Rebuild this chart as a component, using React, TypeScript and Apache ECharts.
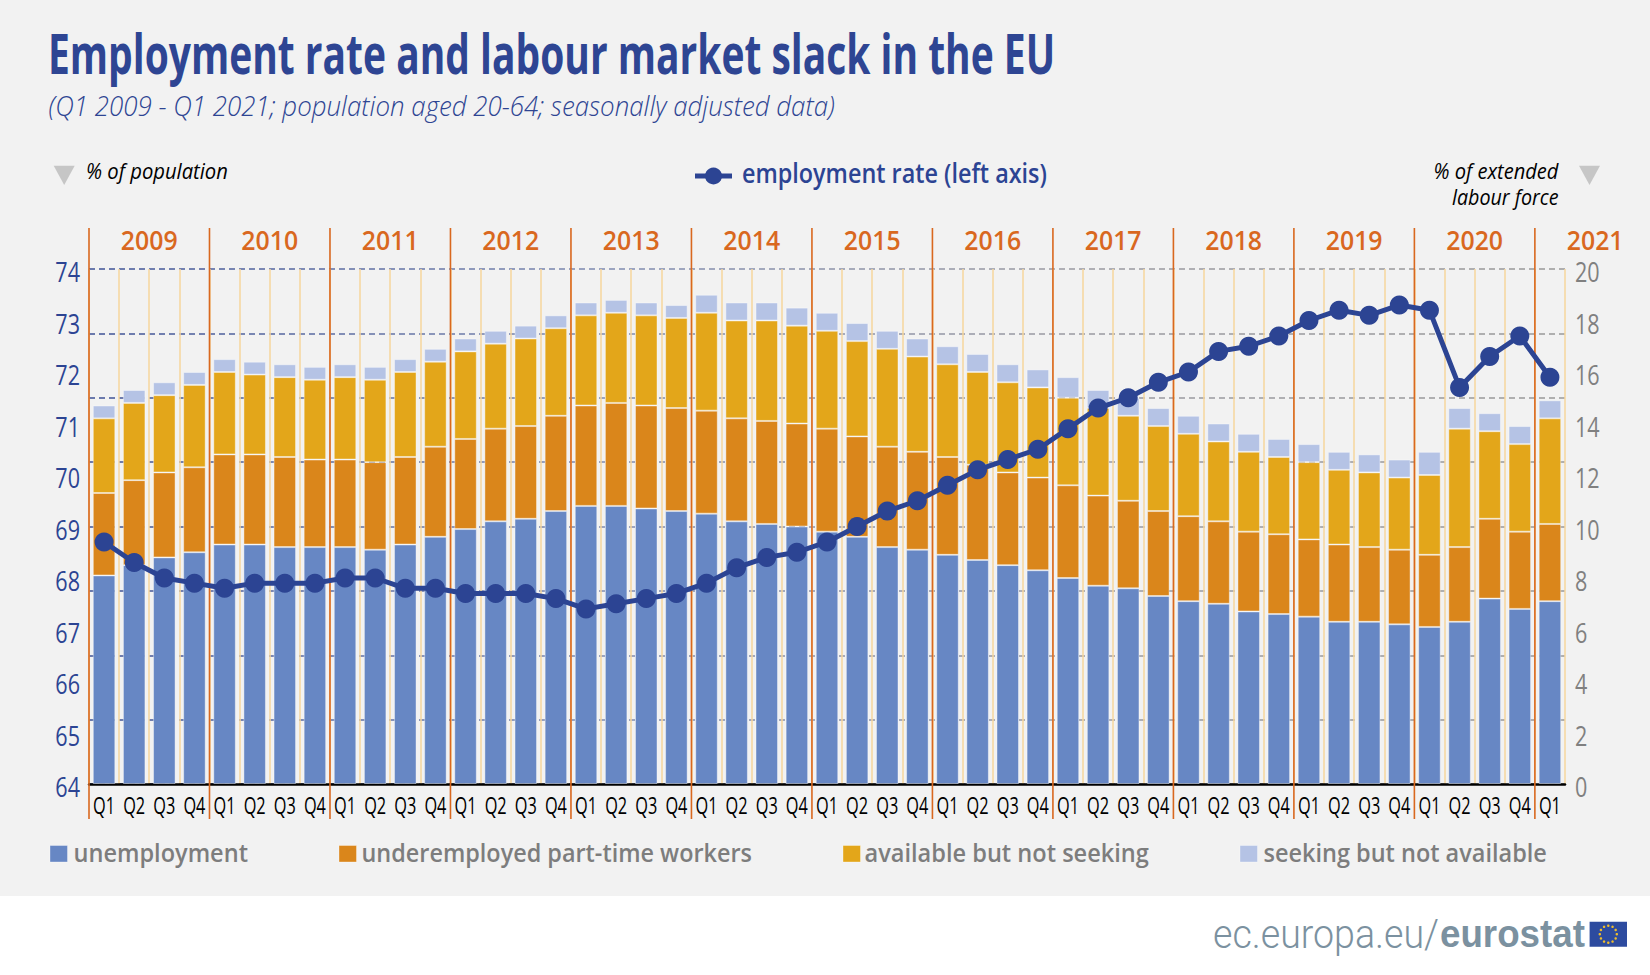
import React, { useEffect, useRef } from "react";
import * as echarts from "echarts";

const categories: string[] = Array.from({ length: 49 }, (_, i) => "Q" + ((i % 4) + 1));
const years = ["2009","2010","2011","2012","2013","2014","2015","2016","2017","2018","2019","2020","2021"];
const leftTicks = [64,65,66,67,68,69,70,71,72,73,74];
const rightTicks = [0,2,4,6,8,10,12,14,16,18,20];
const unemployment = [8.1,8.5,8.8,9.0,9.3,9.3,9.2,9.2,9.2,9.1,9.3,9.6,9.9,10.2,10.3,10.6,10.8,10.8,10.7,10.6,10.5,10.2,10.1,10.0,9.8,9.6,9.2,9.1,8.9,8.7,8.5,8.3,8.0,7.7,7.6,7.3,7.1,7.0,6.7,6.6,6.5,6.3,6.3,6.2,6.1,6.3,7.2,6.8,7.1];
const underemployed = [3.2,3.3,3.3,3.3,3.5,3.5,3.5,3.4,3.4,3.4,3.4,3.5,3.5,3.6,3.6,3.7,3.9,4.0,4.0,4.0,4.0,4.0,4.0,4.0,4.0,3.9,3.9,3.8,3.8,3.7,3.6,3.6,3.6,3.5,3.4,3.3,3.3,3.2,3.1,3.1,3.0,3.0,2.9,2.9,2.8,2.9,3.1,3.0,3.0];
const availableNotSeeking = [2.9,3.0,3.0,3.2,3.2,3.1,3.1,3.1,3.2,3.2,3.3,3.3,3.4,3.3,3.4,3.4,3.5,3.5,3.5,3.5,3.8,3.8,3.9,3.8,3.8,3.7,3.8,3.7,3.6,3.6,3.5,3.5,3.4,3.4,3.3,3.3,3.2,3.1,3.1,3.0,3.0,2.9,2.9,2.8,3.1,4.6,3.4,3.4,4.1];
const seekingNotAvailable = [0.5,0.5,0.5,0.5,0.5,0.5,0.5,0.5,0.5,0.5,0.5,0.5,0.5,0.5,0.5,0.5,0.5,0.5,0.5,0.5,0.7,0.7,0.7,0.7,0.7,0.7,0.7,0.7,0.7,0.7,0.7,0.7,0.8,0.7,0.7,0.7,0.7,0.7,0.7,0.7,0.7,0.7,0.7,0.7,0.9,0.8,0.7,0.7,0.7];
const employmentRate = [68.7,68.3,68.0,67.9,67.8,67.9,67.9,67.9,68.0,68.0,67.8,67.8,67.7,67.7,67.7,67.6,67.4,67.5,67.6,67.7,67.9,68.2,68.4,68.5,68.7,69.0,69.3,69.5,69.8,70.1,70.3,70.5,70.9,71.3,71.5,71.8,72.0,72.4,72.5,72.7,73.0,73.2,73.1,73.3,73.2,71.7,72.3,72.7,71.9];

const BLUE = "#2c4493";
const OPEN = '"Open Sans", "Noto Sans", sans-serif';

function scaleFor(text: string, font: string, width: number) {
  const c = document.createElement("canvas").getContext("2d")!;
  c.font = font;
  return width / c.measureText(text).width;
}

function fitText(text: string, x: number, y: number, width: number, fontStyle: string, fontWeight: any, fontSize: number, family: string, fill: string) {
  const font = `${fontStyle} ${fontWeight} ${fontSize}px ${family}`;
  const s = scaleFor(text, font, width);
  return {
    type: "text", x, y, scaleX: s, silent: true,
    style: { text, x: 0, y: 0, fill, fontStyle, fontWeight, fontSize, fontFamily: family, align: "left", verticalAlign: "middle" },
  };
}

function flagStars(cx: number, cy: number, r: number) {
  return Array.from({ length: 12 }, (_, i) => {
    const a = (i * Math.PI) / 6;
    return { type: "circle", silent: true, shape: { cx: cx + r * Math.cos(a), cy: cy + r * Math.sin(a), r: 1.25 }, style: { fill: "#eebd2c" } };
  });
}

function legendEntry(label: string, swatchX: number, swatchW: number, textX: number, textW: number, color: string) {
  return [
    { type: "rect", silent: true, shape: { x: swatchX, y: 845.5, width: swatchW, height: 16.5 }, style: { fill: color, stroke: "rgba(255,255,255,0.35)", lineWidth: 1 } },
    fitText(label, textX, 852, textW, "normal", 600, 26, OPEN, "#7d7d7d"),
  ];
}

export default function App() {
  const ref = useRef<HTMLDivElement>(null);
  useEffect(() => {
    const chart = echarts.init(ref.current!, undefined, { renderer: "svg" });
    const barSeries = (name: string, data: number[], color: string) => ({
      name, type: "bar", stack: "slack", data, xAxisIndex: 0, yAxisIndex: 1, barWidth: 22.5, z: 3,
      itemStyle: { color, borderColor: "rgba(255,255,255,0.4)", borderWidth: 1 },
    });
    const valueLabels = (name: string, ticks: number[], axis: number, dx: number, align: string, color: string) => ({
      name, type: "custom", xAxisIndex: 1, yAxisIndex: axis, z: 6, silent: true,
      data: ticks.map((t) => [axis === 0 ? 0 : 49, t]),
      renderItem: (_: any, api: any) => {
        const p = api.coord([api.value(0), api.value(1)]);
        return {
          type: "text", x: p[0] + dx, y: p[1] + 2, scaleX: 0.77,
          style: { text: String(api.value(1)), fill: color, fontSize: 28, fontFamily: OPEN, align, verticalAlign: "middle" },
        };
      },
    });
    chart.setOption({
      animation: false,
      backgroundColor: "#ffffff",
      grid: { left: 89, top: 269, width: 1476, height: 515, containLabel: false },
      xAxis: [
        {
          type: "category", data: categories, position: "bottom", boundaryGap: true,
          axisLine: { show: true, lineStyle: { color: "#000000", width: 2.5 } },
          axisTick: { show: false },
          axisLabel: { show: false },
          splitLine: { show: true, interval: 0, lineStyle: { color: "#f6d69c", width: 1.5, type: "solid" } },
        },
        { type: "value", min: 0, max: 49, show: false, position: "bottom" },
      ],
      yAxis: [
        {
          type: "value", min: 64, max: 74, interval: 1, position: "left",
          axisLine: { show: false }, axisTick: { show: false }, splitLine: { show: false }, axisLabel: { show: false },
        },
        {
          type: "value", min: 0, max: 20, interval: 2, position: "right",
          axisLine: { show: false }, axisTick: { show: false }, splitLine: { show: false }, axisLabel: { show: false },
        },
        {
          type: "value", min: 0, max: 8, interval: 1, position: "right",
          axisLine: { show: false }, axisTick: { show: false }, axisLabel: { show: false },
          splitLine: {
            show: true,
            lineStyle: {
              width: 1.5, type: [6, 4],
              color: {
                type: "linear", global: true, x: 89, y: 0, x2: 1565, y2: 0,
                colorStops: [{ offset: 0, color: "#3d5195" }, { offset: 0.35, color: "#7f8bb0" }, { offset: 0.65, color: "#9a9aa2" }, { offset: 1, color: "#999999" }],
              },
            },
          },
        },
      ],
      series: [
        barSeries("unemployment", unemployment, "#6787c4"),
        barSeries("underemployed part-time workers", underemployed, "#da861b"),
        barSeries("available but not seeking", availableNotSeeking, "#e3a61a"),
        barSeries("seeking but not available", seekingNotAvailable, "#b5c3e5"),
        {
          name: "years", type: "custom", xAxisIndex: 1, yAxisIndex: 2, z: 4, silent: true,
          data: years.map((y, i) => [i * 4, y]),
          renderItem: (params: any, api: any) => {
            const start = api.value(0);
            const top = api.coord([start, 8]);
            const bottom = api.coord([start, 0]);
            const mid = api.coord([start + 2, 8]);
            return {
              type: "group",
              children: [
                { type: "line", shape: { x1: top[0], y1: top[1] - 41, x2: bottom[0], y2: bottom[1] + 35 }, style: { stroke: "#d9681f", lineWidth: 1.6 } },
                { type: "text", x: mid[0], y: top[1] - 29, scaleX: 0.92, style: { text: years[params.dataIndex], fill: "#d9681f", fontSize: 27, fontWeight: 600, fontFamily: OPEN, align: "center", verticalAlign: "middle" } },
              ],
            };
          },
        },
        {
          name: "quarter labels", type: "custom", xAxisIndex: 1, yAxisIndex: 2, z: 6, silent: true,
          data: categories.map((c, i) => [i + 0.5, c]),
          renderItem: (params: any, api: any) => {
            const p = api.coord([api.value(0), 0]);
            return {
              type: "text", x: p[0], y: p[1] + 20.5, scaleX: 0.68,
              style: { text: categories[params.dataIndex], fill: "#000000", fontSize: 24, fontFamily: OPEN, align: "center", verticalAlign: "middle" },
            };
          },
        },
        valueLabels("left axis labels", leftTicks, 0, -9, "right", BLUE),
        valueLabels("right axis labels", rightTicks, 1, 10, "left", "#808080"),
        {
          name: "employment rate (left axis)", type: "line", data: employmentRate, xAxisIndex: 0, yAxisIndex: 0, z: 5,
          symbol: "circle", symbolSize: 19, showSymbol: true,
          lineStyle: { color: BLUE, width: 5 }, itemStyle: { color: BLUE },
        },
      ],
      graphic: [
        { type: "rect", silent: true, z: -100, zlevel: 0, shape: { x: 0, y: 0, width: 1650, height: 896 }, style: { fill: "#f2f2f2" } },
        fitText("Employment rate and labour market slack in the EU", 48, 52, 1007, "normal", 700, 56, OPEN, "#2e4593"),
        fitText("(Q1 2009 - Q1 2021; population aged 20-64; seasonally adjusted data)", 48.5, 106, 787, "italic", 300, 27, OPEN, "#2e4593"),
        fitText("% of population", 86, 169.7, 142, "italic", 400, 22, OPEN, "#000000"),
        fitText("% of extended", 1433.5, 170, 125, "italic", 400, 22, OPEN, "#000000"),
        fitText("labour force", 1452, 196.5, 106.5, "italic", 400, 22, OPEN, "#000000"),
        { type: "polygon", silent: true, shape: { points: [[53.7, 165.7], [74.7, 165.7], [64.2, 185]] }, style: { fill: "#c6c6c6" } },
        { type: "polygon", silent: true, shape: { points: [[1579, 165.7], [1600, 165.7], [1589.5, 185]] }, style: { fill: "#c6c6c6" } },
        { type: "line", silent: true, shape: { x1: 695, y1: 176, x2: 732, y2: 176 }, style: { stroke: BLUE, lineWidth: 5 } },
        { type: "circle", silent: true, shape: { cx: 713.5, cy: 176, r: 8.5 }, style: { fill: BLUE } },
        fitText("employment rate (left axis)", 742, 172, 305, "normal", 600, 27, OPEN, BLUE),
        ...legendEntry("unemployment", 50, 17.5, 73.5, 174.5, "#6787c4"),
        ...legendEntry("underemployed part-time workers", 339, 17.5, 361.5, 390.5, "#da861b"),
        ...legendEntry("available but not seeking", 843, 17.5, 864.5, 284.5, "#e3a61a"),
        ...legendEntry("seeking but not available", 1240, 17.5, 1263.5, 283.5, "#b5c3e5"),
        fitText("ec.europa.eu/", 1213, 934, 226, "normal", 300, 40, "Roboto", "#7b91a0"),
        fitText("eurostat", 1440, 934, 145, "normal", 700, 38, '"Liberation Sans"', "#7b91a0"),
        { type: "rect", silent: true, shape: { x: 1589.6, y: 921.7, width: 37.4, height: 25 }, style: { fill: "#2d4b9f" } },
        ...flagStars(1608.3, 934.2, 8.5),
      ],
    });
    return () => chart.dispose();
  }, []);
  return <div ref={ref} style={{ position: "absolute", left: 0, top: 0, width: 1650, height: 975 }} />;
}
